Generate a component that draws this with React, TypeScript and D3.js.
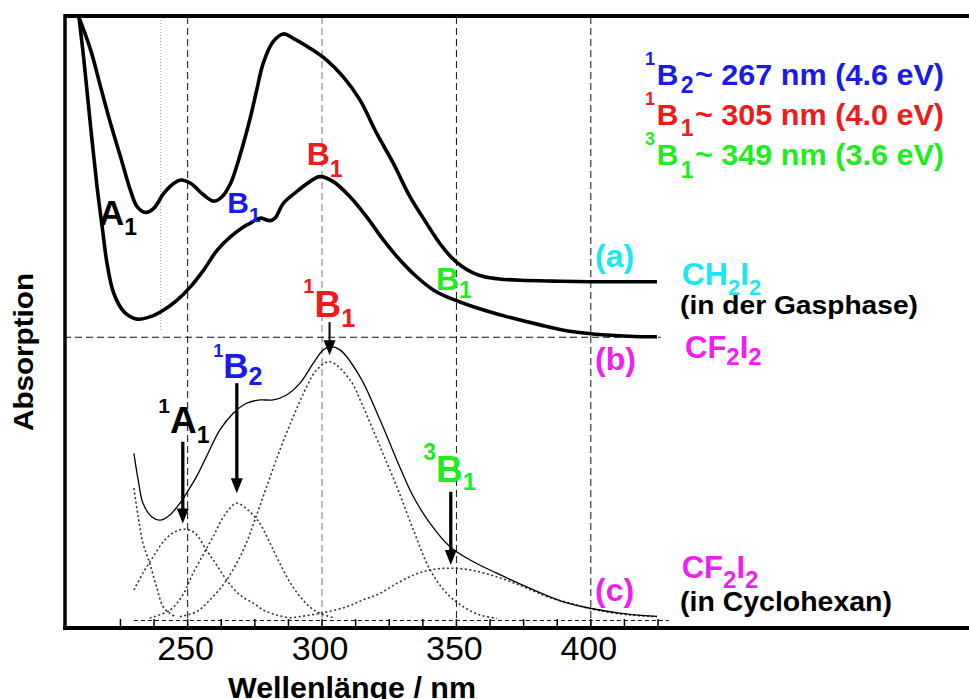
import React from 'react';
import * as d3 from 'd3';

// [wavelength nm, absorption (arb. units)]
const gasCH2I2: [number, number][] = [
  [209.3, 2.2], [213.9, 2.075], [217.6, 1.941], [221.3, 1.808], [225.0, 1.687],
  [228.7, 1.565], [231.2, 1.505], [234.3, 1.484], [237.4, 1.499], [241.1, 1.553],
  [244.9, 1.59], [247.4, 1.602], [251.1, 1.59], [256.0, 1.547], [259.8, 1.525],
  [262.8, 1.541], [266.0, 1.59], [269.7, 1.699], [273.4, 1.832], [275.7, 1.929],
  [278.1, 2.026], [281.8, 2.105], [285.6, 2.133], [289.3, 2.117], [295.5, 2.081],
  [301.7, 2.038], [307.9, 1.977], [314.1, 1.893], [320.3, 1.772], [326.5, 1.663],
  [332.7, 1.541], [338.9, 1.444], [343.9, 1.37], [348.0, 1.322], [352.0, 1.288],
  [356.0, 1.265], [360.0, 1.251], [366.0, 1.242], [374.0, 1.237], [386.0, 1.234],
  [399.7, 1.232], [424.6, 1.232],
];

const gasCF2I2: [number, number][] = [
  [209.5, 2.2], [211.4, 2.038], [213.9, 1.796], [216.3, 1.577], [218.2, 1.432],
  [220.0, 1.299], [222.5, 1.19], [226.3, 1.123], [231.2, 1.096], [236.2, 1.105],
  [241.1, 1.129], [246.1, 1.165], [251.1, 1.214], [256.0, 1.275], [261.0, 1.347],
  [266.0, 1.396], [270.9, 1.432], [273.2, 1.444], [276.9, 1.463], [280.6, 1.454],
  [282.5, 1.463], [285.6, 1.517], [290.5, 1.559], [295.5, 1.596], [299.2, 1.614],
  [304.2, 1.596], [310.4, 1.541], [316.6, 1.468], [322.8, 1.384], [329.0, 1.311],
  [335.2, 1.25], [341.4, 1.202], [347.6, 1.172], [356.3, 1.141], [368.7, 1.105],
  [381.1, 1.075], [393.5, 1.05], [406.0, 1.038], [418.4, 1.032], [424.6, 1.032],
];

const cyclohexCF2I2: [number, number][] = [
  [230.0, 0.608], [231.6, 0.511], [233.4, 0.426], [236.6, 0.377], [239.7, 0.365],
  [243.4, 0.384], [247.1, 0.426], [249.6, 0.463], [253.3, 0.523], [257.0, 0.596],
  [262.0, 0.693], [266.9, 0.753], [271.9, 0.79], [276.9, 0.802], [281.8, 0.802],
  [286.8, 0.82], [291.8, 0.863], [296.7, 0.935], [300.4, 0.984], [302.9, 0.996],
  [306.7, 0.984], [314.1, 0.887], [321.6, 0.729], [327.8, 0.584], [334.0, 0.45],
  [340.2, 0.353], [347.6, 0.268], [355.1, 0.22], [365.0, 0.172], [377.4, 0.117],
  [389.8, 0.068], [402.2, 0.04], [414.6, 0.022], [424.6, 0.015],
];

// fitted bands (dotted)
const bandEdge: [number, number][] = [
  [230.0, 0.481], [231.6, 0.377], [233.4, 0.281], [235.9, 0.208], [238.4, 0.123],
  [240.9, 0.05], [243.4, 0.026], [245.9, 0.012],
];
const band1A1: [number, number][] = [
  [230.0, 0.111], [233.4, 0.173], [237.2, 0.232], [241.5, 0.293], [245.2, 0.322],
  [249.0, 0.332], [252.7, 0.318], [257.0, 0.256], [260.8, 0.202], [264.5, 0.147],
  [269.4, 0.093], [274.4, 0.063], [278.7, 0.035], [283.1, 0.02], [288.0, 0.009],
];
const band1B2: [number, number][] = [
  [235.9, 0.009], [243.4, 0.038], [248.2, 0.093], [252.0, 0.172], [255.7, 0.238],
  [259.5, 0.305], [263.8, 0.384], [268.2, 0.426], [272.4, 0.402], [276.9, 0.353],
  [280.6, 0.282], [284.3, 0.208], [288.0, 0.14], [291.8, 0.087], [295.5, 0.049],
  [299.2, 0.026], [304.8, 0.009],
];
const band1B1: [number, number][] = [
  [247.1, 0.014], [253.3, 0.032], [258.3, 0.075], [264.5, 0.147], [270.7, 0.256],
  [275.0, 0.365], [279.4, 0.487], [284.3, 0.62], [289.3, 0.741], [294.3, 0.85],
  [298.0, 0.911], [302.9, 0.941], [310.4, 0.875], [315.3, 0.777], [321.6, 0.632],
  [327.8, 0.487], [334.0, 0.329], [340.2, 0.184], [346.4, 0.099], [352.6, 0.05],
  [358.8, 0.02], [365.0, 0.008],
];
const band3B1: [number, number][] = [
  [288.0, 0.009], [299.2, 0.026], [309.2, 0.05], [315.3, 0.075], [321.6, 0.099],
  [327.8, 0.135], [334.0, 0.165], [340.2, 0.184], [347.6, 0.19], [355.1, 0.184],
  [365.0, 0.159], [374.9, 0.123], [383.6, 0.087], [392.3, 0.063], [402.2, 0.038],
  [414.6, 0.02], [424.6, 0.014],
];

// arrows pointing at the band maxima: wavelength, from, to
const arrowNm = [248.2, 268.3, 302.8, 347.9];
const arrowFrom = [0.65, 0.863, 1.085, 0.468];
const arrowTo = [0.353, 0.463, 0.965, 0.202];

const majorTicks = [250, 300, 350, 400];
const minorTicks = [225, 237.5, 250, 262.5, 275, 287.5, 300, 312.5, 325, 337.5, 350, 362.5, 375, 387.5, 400, 412.5, 425];

const legendSup = ['1', '1', '3'];
const legendSub = ['2', '1', '1'];
const legendText = ['~ 267 nm (4.6 eV)', '~ 305 nm (4.0 eV)', '~ 349 nm (3.6 eV)'];

const BLUE = '#1a1aeb';
const RED = '#f01a1a';
const GREEN = '#1eee1e';
const CYAN = '#1ee6f0';
const MAGENTA = '#f01ef0';

export default function App() {
  const W = 969;
  const H = 699;
  const x = d3.scaleLinear().domain([204, 540.7]).range([64, 969]);
  const y = d3.scaleLinear().domain([0, 2.2]).range([620.5, 15.5]);

  const line = d3
    .line<[number, number]>()
    .x(d => x(d[0]))
    .y(d => y(d[1]))
    .curve(d3.curveCatmullRom.alpha(0.5));

  const legendColors = [BLUE, RED, GREEN];
  const bold = 'bold';

  return (
    <svg
      width={W}
      height={H}
      style={{ position: 'absolute', left: 0, top: 0, background: '#fff' }}
      fontFamily="'Liberation Sans', Arial, sans-serif"
    >
      <defs>
        <clipPath id="plot">
          <rect x={66} y={17} width={903} height={609} />
        </clipPath>
      </defs>

      {/* grid */}
      <line x1={x(240)} x2={x(240)} y1={17} y2={330} stroke="#999" strokeWidth={1} strokeDasharray="1,2" />
      {majorTicks.map(v => (
        <line
          key={'g' + v}
          x1={x(v)}
          x2={x(v)}
          y1={17}
          y2={626}
          stroke={v === 300 ? '#777' : '#111'}
          strokeWidth={1}
          strokeDasharray="7,4"
        />
      ))}
      <line x1={64} x2={x(426)} y1={y(1.03)} y2={y(1.03)} stroke="#111" strokeWidth={1} strokeDasharray="7,4" />
      <line x1={x(230)} x2={x(429)} y1={y(0)} y2={y(0)} stroke="#111" strokeWidth={1} strokeDasharray="4,3" />

      {/* curves */}
      <g clipPath="url(#plot)" fill="none">
        <path d={line(gasCH2I2) || ''} stroke="#000" strokeWidth={3.6} />
        <path d={line(gasCF2I2) || ''} stroke="#000" strokeWidth={3.6} />
        {[bandEdge, band1A1, band1B2, band1B1, band3B1].map((b, i) => (
          <path key={i} d={line(b) || ''} stroke="#333" strokeWidth={1.6} strokeDasharray="2,2.5" />
        ))}
        <path d={line(cyclohexCF2I2) || ''} stroke="#000" strokeWidth={1.3} />
      </g>

      {/* arrows */}
      {arrowNm.map((nm, i) => {
        const ax = x(nm);
        const tip = y(arrowTo[i]);
        return (
          <g key={'a' + i}>
            <line x1={ax} x2={ax} y1={y(arrowFrom[i])} y2={tip - 10} stroke="#000" strokeWidth={i === 2 ? 2 : 3.3} />
            <path d={`M${ax - 6},${tip - 15}L${ax + 6},${tip - 15}L${ax},${tip}Z`} fill="#000" />
          </g>
        );
      })}

      {/* frame and axis */}
      <line x1={64} x2={969} y1={16} y2={16} stroke="#000" strokeWidth={4} />
      <line x1={65} x2={65} y1={14} y2={630} stroke="#000" strokeWidth={3.5} />
      <line x1={63} x2={969} y1={628} y2={628} stroke="#000" strokeWidth={4} />
      {minorTicks.map(v => (
        <line key={'t' + v} x1={x(v)} x2={x(v)} y1={627} y2={619} stroke="#000" strokeWidth={1.5} />
      ))}
      {majorTicks.map(v => (
        <text key={'l' + v} x={x(v) - 2} y={660} fontSize={34} textAnchor="middle" fill="#000">
          {v}
        </text>
      ))}
      <text x={228} y={698} fontSize={30} fontWeight={bold} textLength={248} lengthAdjust="spacingAndGlyphs">
        Wellenlänge / nm
      </text>
      <text
        transform="translate(33,352) rotate(-90)"
        fontSize={28}
        fontWeight={bold}
        textAnchor="middle"
        textLength={158}
        lengthAdjust="spacingAndGlyphs"
      >
        Absorption
      </text>

      {/* legend */}
      {legendText.map((t, i) => {
        const base = 85 + i * 40;
        return (
          <g key={'lg' + i} fill={legendColors[i]} fontWeight={bold}>
            <text x={645} y={base - 20} fontSize={18}>{legendSup[i]}</text>
            <text x={656.7} y={base} fontSize={30}>B</text>
            <text x={680.7} y={base + 8 + i * 2.5} fontSize={23}>{legendSub[i]}</text>
            <text x={695} y={base} fontSize={30} textLength={249} lengthAdjust="spacingAndGlyphs">{t}</text>
          </g>
        );
      })}

      {/* labels upper panel */}
      <g fontWeight={bold}>
        <text x={99} y={225} fill="#000">
          <tspan fontSize={35}>A</tspan>
          <tspan fontSize={23} dy={10}>1</tspan>
        </text>
        <text x={227.3} y={213.3} fill={BLUE}>
          <tspan fontSize={30}>B</tspan>
          <tspan fontSize={21} dy={8.4}>1</tspan>
        </text>
        <text x={306.7} y={165} fill={RED}>
          <tspan fontSize={32}>B</tspan>
          <tspan fontSize={23} dy={11.7}>1</tspan>
        </text>
        <text x={436} y={290} fill={GREEN}>
          <tspan fontSize={32}>B</tspan>
          <tspan fontSize={23} dy={8}>1</tspan>
        </text>

        <text x={595} y={267} fontSize={32} fill={CYAN}>(a)</text>
        <text x={595} y={370} fontSize={32} fill={MAGENTA}>(b)</text>
        <text x={595} y={601} fontSize={32} fill={MAGENTA}>(c)</text>

        <text x={681.7} y={285} fill={CYAN}>
          <tspan fontSize={32}>CH</tspan>
          <tspan fontSize={22} dy={10}>2</tspan>
          <tspan fontSize={32} dy={-10}>I</tspan>
          <tspan fontSize={22} dy={10}>2</tspan>
        </text>
        <text x={680} y={314} fontSize={26} fill="#000" textLength={238} lengthAdjust="spacingAndGlyphs">
          (in der Gasphase)
        </text>
        <text x={685} y={358.3} fill={MAGENTA}>
          <tspan fontSize={31}>CF</tspan>
          <tspan fontSize={24} dy={7}>2</tspan>
          <tspan fontSize={31} dy={-7}>I</tspan>
          <tspan fontSize={24} dy={7}>2</tspan>
        </text>
        <text x={681.7} y={578.3} fill={MAGENTA}>
          <tspan fontSize={31}>CF</tspan>
          <tspan fontSize={24} dy={10}>2</tspan>
          <tspan fontSize={31} dy={-10}>I</tspan>
          <tspan fontSize={24} dy={10}>2</tspan>
        </text>
        <text x={680} y={610.5} fontSize={27} fill="#000" textLength={212} lengthAdjust="spacingAndGlyphs">
          (in Cyclohexan)
        </text>

        {/* labels lower panel */}
        <text x={158.3} y={413.3} fill="#000">
          <tspan fontSize={21}>1</tspan>
          <tspan fontSize={37} dy={20}>A</tspan>
          <tspan fontSize={23} dy={10}>1</tspan>
        </text>
        <text x={213.3} y={356.7} fill={BLUE}>
          <tspan fontSize={18}>1</tspan>
          <tspan fontSize={35} dy={21.6}>B</tspan>
          <tspan fontSize={25} dy={6.7}>2</tspan>
        </text>
        <text x={303.3} y={293.3} fill={RED}>
          <tspan fontSize={20}>1</tspan>
          <tspan fontSize={37} dy={23.4}>B</tspan>
          <tspan fontSize={25} dy={10}>1</tspan>
        </text>
        <text x={423.3} y={460} fill={GREEN}>
          <tspan fontSize={23}>3</tspan>
          <tspan fontSize={37} dy={21.7}>B</tspan>
          <tspan fontSize={24} dy={8.3}>1</tspan>
        </text>
      </g>
    </svg>
  );
}
